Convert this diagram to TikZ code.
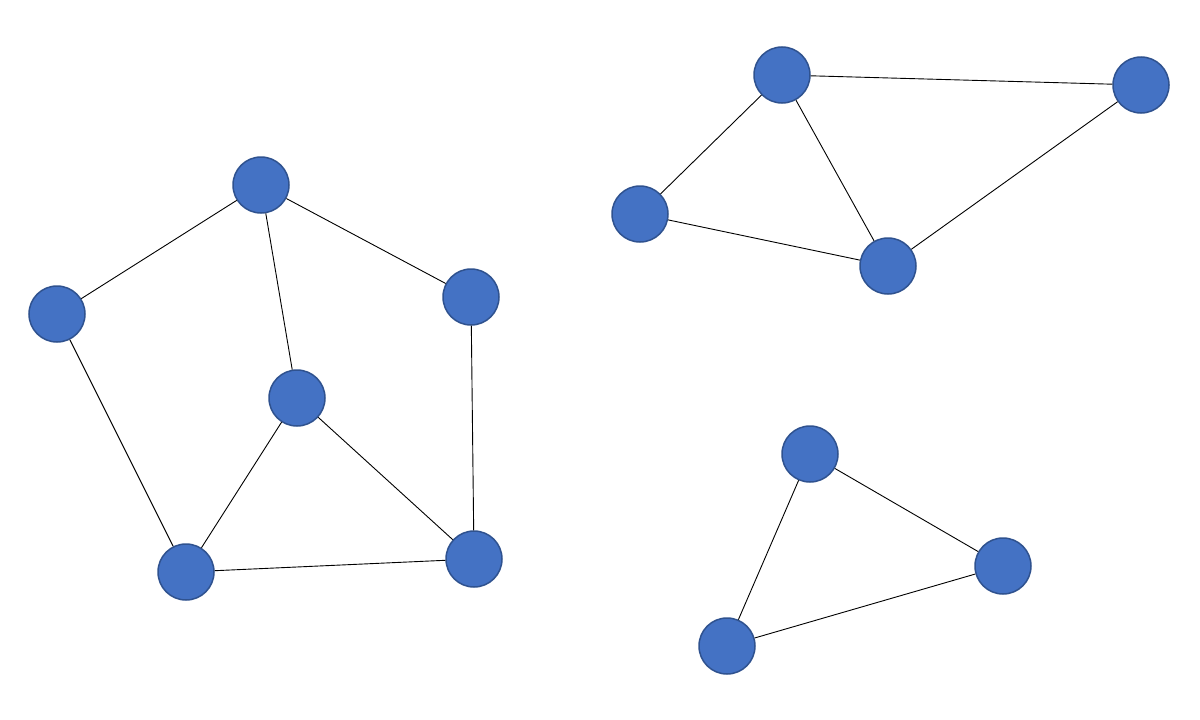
\documentclass[tikz,border=0pt]{standalone}
\begin{document}
\begin{tikzpicture}[x=1pt,y=-1pt,
  vtx/.style={circle,fill={rgb,255:red,68;green,114;blue,196},draw={rgb,255:red,47;green,82;blue,143},line width=1.5pt,minimum size=56pt,inner sep=0pt},
  edge/.style={draw=black,line width=0.9pt}]
\useasboundingbox[fill=white] (0,0) rectangle (1200,720);
\node[vtx] (A) at (261,185) {};
\node[vtx] (B) at (57,314) {};
\node[vtx] (C) at (471,297) {};
\node[vtx] (D) at (297,398) {};
\node[vtx] (E) at (186,572) {};
\node[vtx] (F) at (474,559) {};
\node[vtx] (G) at (782,75) {};
\node[vtx] (H) at (1141,85) {};
\node[vtx] (I) at (640,214) {};
\node[vtx] (J) at (888,266) {};
\node[vtx] (K) at (810,454) {};
\node[vtx] (L) at (1003,566) {};
\node[vtx] (M) at (727,646) {};
\foreach \a/\b in {A/B,A/C,A/D,B/E,C/F,D/E,D/F,E/F,G/H,G/I,G/J,I/J,J/H,K/L,K/M,M/L}
  \draw[edge] (\a) -- (\b);
\end{tikzpicture}
\end{document}
